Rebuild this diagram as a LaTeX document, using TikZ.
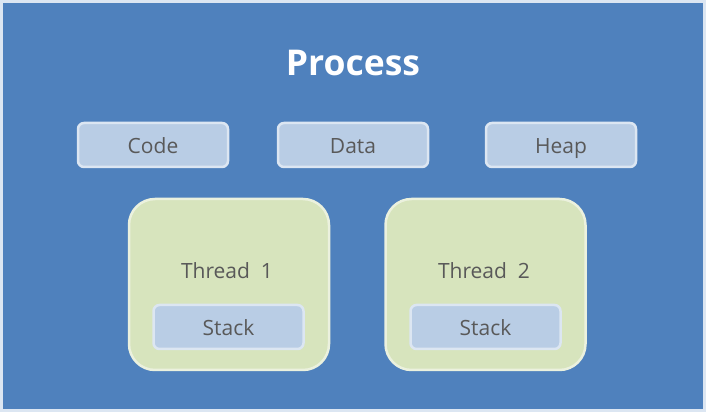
\documentclass[tikz,border=0pt]{standalone}
\usepackage{fontspec}
\setmainfont{Open Sans}
\definecolor{procblue}{HTML}{4F81BD}
\definecolor{edge}{HTML}{DCE6F2}
\definecolor{segfill}{HTML}{B9CDE5}
\definecolor{thrfill}{HTML}{D7E4BD}
\definecolor{thredge}{HTML}{EBF1DE}
\definecolor{txt}{HTML}{595959}
\tikzset{
  seg/.style={draw=edge, line width=2.5pt, fill=segfill, rounded corners=6pt,
    minimum width=150pt, minimum height=44pt, inner sep=0pt,
    text height=17pt, text depth=-5pt,
    text=txt, font=\fontsize{21}{25}\selectfont},
  thr/.style={draw=thredge, line width=2.5pt, fill=thrfill, rounded corners=26pt,
    minimum width=200pt, minimum height=171pt, inner sep=0pt},
  lbl/.style={text=txt, font=\fontsize{21}{25}\selectfont, inner sep=0pt, anchor=base},
}
\begin{document}
\begin{tikzpicture}[x=1pt,y=1pt]
\useasboundingbox (0,0) rectangle (706,412);
\fill[edge] (0,0) rectangle (706,412);
\node[fill=procblue, minimum width=700pt, minimum height=406pt, inner sep=0pt] (proc) at (353,206) {};
\node[text=white, font=\fontsize{35.5}{40}\bfseries\selectfont, inner sep=0pt, anchor=base] (title) at (353,412-75.5) {Process};
\node[seg] (code) at (153,412-145) {Code};
\node[seg] (data) at (353,412-145) {Data};
\node[seg] (heap) at (561,412-145) {Heap};
\node[thr] (t1) at (229,412-284.5) {};
\node[thr] (t2) at (485.5,412-284.5) {};
\node[lbl] (t1l) at (227,412-279) {Thread\ \ 1};
\node[lbl] (t2l) at (484,412-279) {Thread\ \ 2};
\node[seg] (s1) at (228.5,412-327) {Stack};
\node[seg] (s2) at (485.5,412-327) {Stack};
\end{tikzpicture}
\end{document}
